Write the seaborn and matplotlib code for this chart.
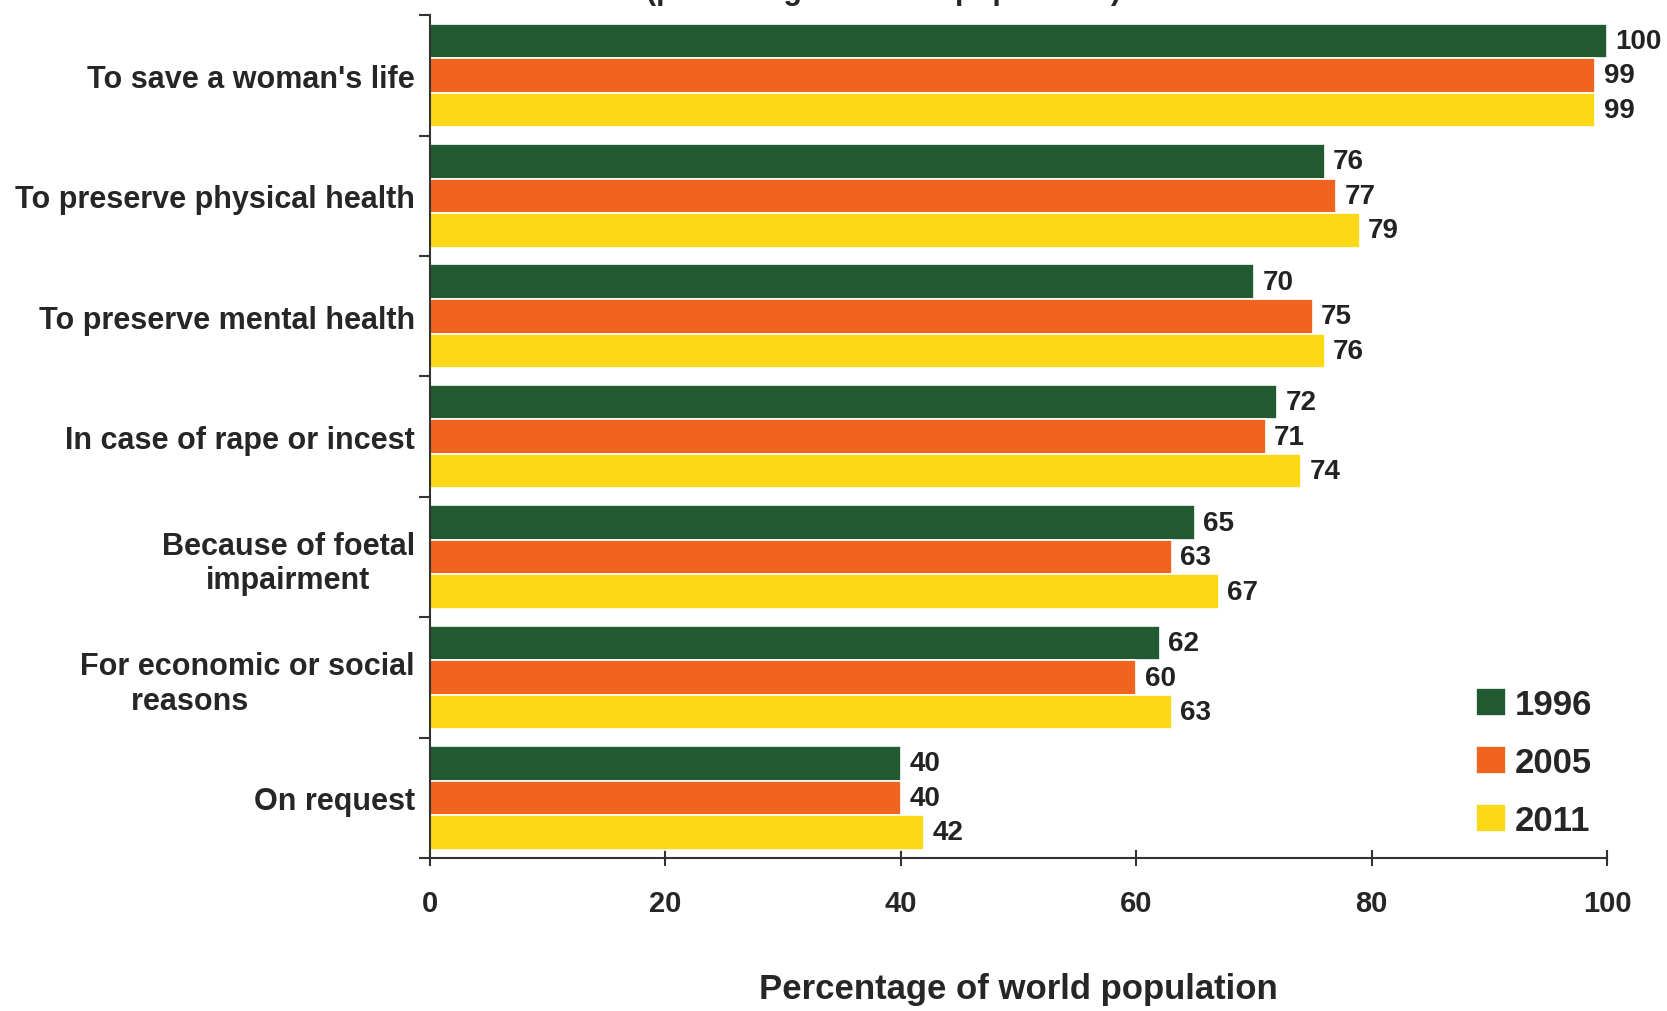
import matplotlib
matplotlib.use("Agg")
import matplotlib.pyplot as plt
import seaborn as sns
import pandas as pd

categories = ["To save a woman's life", "To preserve physical health", "To preserve mental health",
              "In case of rape or incest", "Because of foetal\nimpairment",
              "For economic or social\n      reasons", "On request"]
years = ["1996", "2005", "2011"]
v1996 = [100, 76, 70, 72, 65, 62, 40]
v2005 = [99, 77, 75, 71, 63, 60, 40]
v2011 = [99, 79, 76, 74, 67, 63, 42]
colors = ["#215a31", "#f0641f", "#fcd916"]

rows = []
for yr, vals in zip(years, [v1996, v2005, v2011]):
    for c, v in zip(categories, vals):
        rows.append({"cat": c, "year": yr, "val": v})
df = pd.DataFrame(rows)

sns.set_style("white")
plt.rcParams['font.family'] = ['Liberation Sans', 'DejaVu Sans']
plt.rcParams['font.weight'] = 'bold'

fig = plt.figure(figsize=(16.67, 10.12), dpi=100)
ax = fig.add_axes([0.258, 0.151, 0.706, 0.833])
sns.barplot(data=df, y="cat", x="val", hue="year", order=categories, hue_order=years,
            palette=colors, orient="h", width=0.86, edgecolor="white", linewidth=1.2,
            saturation=1, ax=ax)

for cont in ax.containers:
    ax.bar_label(cont, padding=6, fontsize=20, fontweight='bold', color='#222222')

ax.set_xlim(0, 100)
ax.set_ylim(len(categories) - 0.5, -0.5)
ax.set_xticks([0, 20, 40, 60, 80, 100])
ax.set_xticklabels(["0", "20", "40", "60", "80", "100"], fontsize=21, fontweight='bold')
ax.tick_params(axis='x', which='major', bottom=True, direction='inout', length=12, width=1.5,
               color='#333333', pad=16)
ax.set_yticks(range(len(categories)))
ax.set_yticklabels(categories, fontsize=22, fontweight='bold')
ax.tick_params(axis='y', which='major', length=0, pad=11)
ax.set_yticks([i - 0.5 for i in range(len(categories) + 1)], minor=True)
ax.tick_params(axis='y', which='minor', left=True, length=8, width=1.5, color='#333333',
               direction='out')
for lbl in ax.get_yticklabels():
    t = lbl.get_text()
    if "foetal" in t:
        lbl.set_multialignment('center')
    elif "economic" in t:
        lbl.set_multialignment('left')

for s in ["top", "right"]:
    ax.spines[s].set_visible(False)
for s in ["left", "bottom"]:
    ax.spines[s].set_color('#333333')
    ax.spines[s].set_linewidth(1.5)

ax.set_ylabel("")
ax.set_xlabel("Percentage of world population", fontsize=25, fontweight='bold', labelpad=40)

leg = ax.legend(loc='lower right', bbox_to_anchor=(1.005, 0.0), frameon=False,
                handlelength=0.85, handleheight=0.85, handletextpad=0.25, labelspacing=0.72,
                borderaxespad=0.2, prop={'weight': 'bold', 'size': 25})

fig.text(0.53, 1.009, "(percentage of world population)", ha='center', va='center',
         fontsize=22, fontweight='bold')

fig.savefig("out.png", dpi=100)
